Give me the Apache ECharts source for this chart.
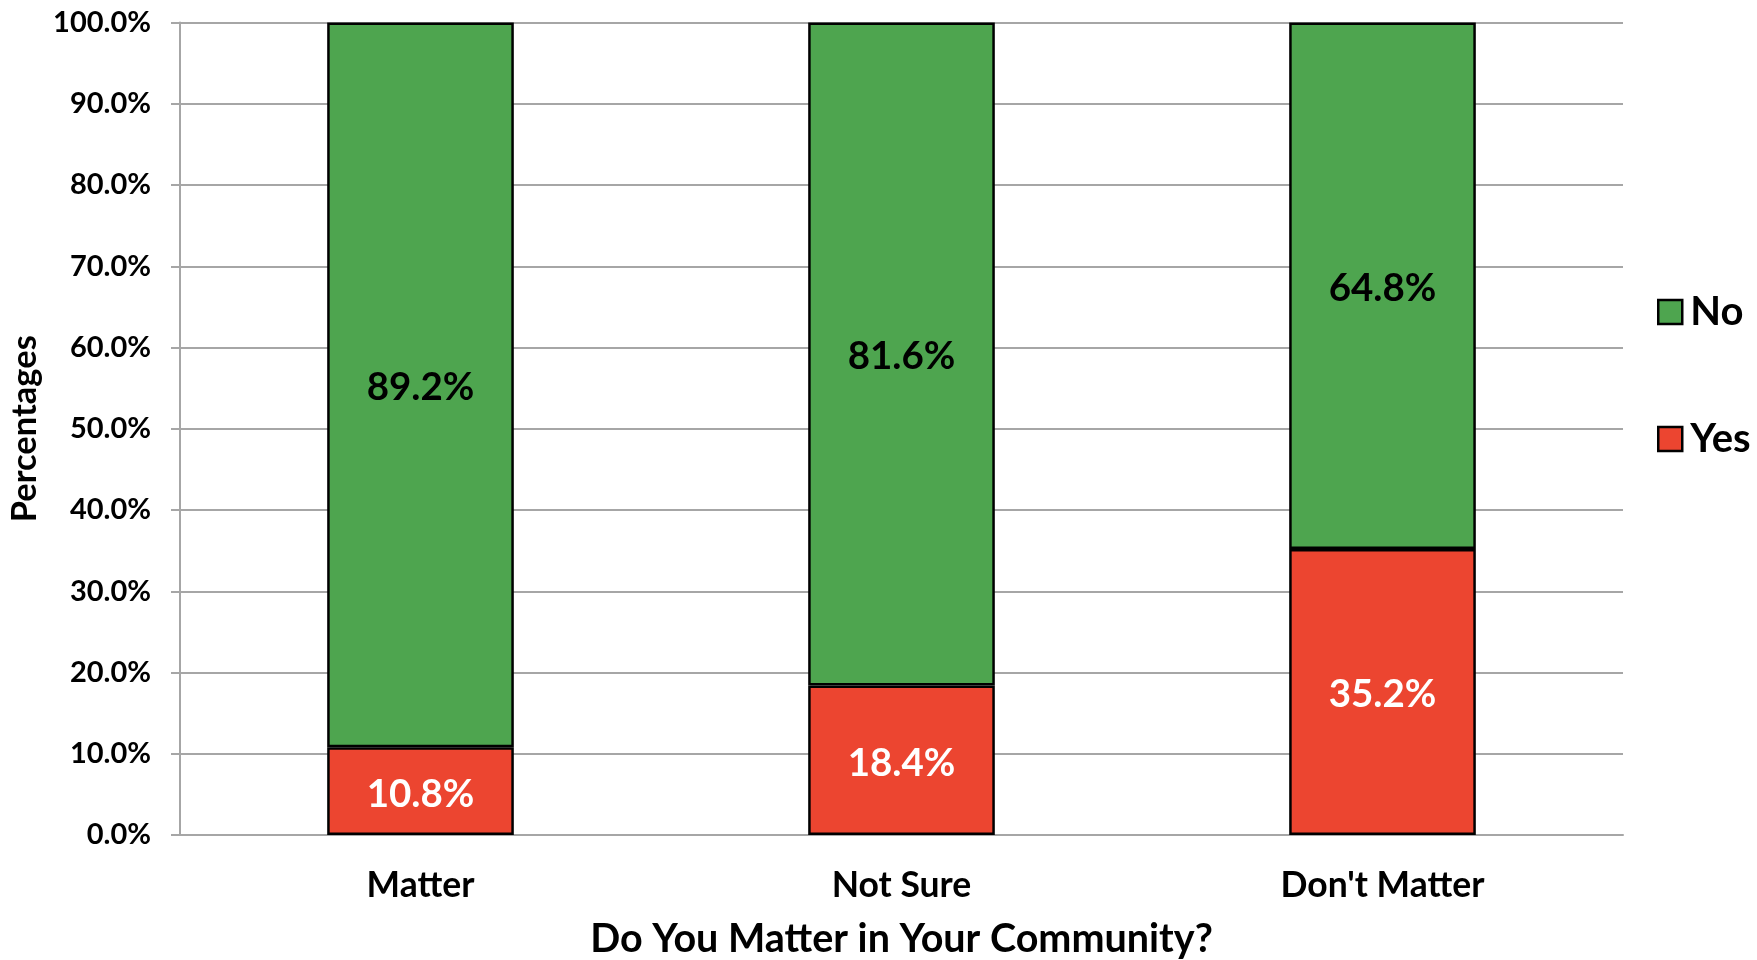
<!DOCTYPE html>
<html>
<head>
<meta charset="utf-8">
<script src="https://cdn.jsdelivr.net/npm/echarts@6/dist/echarts.min.js"></script>
<style>
html,body{margin:0;padding:0;background:#fff;}
#chart{width:1757px;height:960px;}
</style>
</head>
<body>
<div id="chart"></div>
<script>
const categories = ["Matter", "Not Sure", "Don't Matter"];
const yesValues = [10.8, 18.4, 35.2];
const noValues = [89.2, 81.6, 64.8];
const seriesNames = ["Yes", "No"];
const legendOrder = ["No", "Yes"];
const xTitle = "Do You Matter in Your Community?";
const yTitle = "Percentages";

const FONT = "Lato";
const chart = echarts.init(document.getElementById('chart'), null, {renderer: 'canvas'});

const option = {
  animation: false,
  backgroundColor: '#ffffff',
  textStyle: {fontFamily: FONT},
  grid: {left: 180, right: 134, top: 22.5, bottom: 125, containLabel: false, outerBoundsMode: 'none'},
  legend: {
    data: legendOrder,
    orient: 'vertical',
    left: 1652,
    top: 287,
    itemWidth: 24,
    itemHeight: 24,
    itemGap: 87,
    icon: 'rect',
    textStyle: {fontFamily: FONT, fontWeight: 'bold', fontSize: 40, color: '#000', padding: [0, 0, 0, 3]},
    itemStyle: {borderColor: '#000', borderWidth: 2.5}
  },
  xAxis: {
    type: 'category',
    data: categories,
    name: xTitle,
    nameLocation: 'middle',
    nameGap: 84,
    nameTextStyle: {fontFamily: FONT, fontWeight: 'bold', fontSize: 39.5, color: '#000'},
    axisLine: {show: true, lineStyle: {color: '#a6a6a6', width: 2}},
    axisTick: {show: false},
    axisLabel: {fontFamily: FONT, fontWeight: 'bold', fontSize: 35.5, color: '#000', margin: 33},
    splitLine: {show: false}
  },
  yAxis: {
    type: 'value',
    min: 0,
    max: 100,
    interval: 10,
    name: yTitle,
    nameLocation: 'middle',
    nameGap: 138,
    nameRotate: 90,
    nameTextStyle: {fontFamily: FONT, fontWeight: 'bold', fontSize: 34.5, color: '#000'},
    axisLine: {show: true, lineStyle: {color: '#a6a6a6', width: 2}},
    axisTick: {show: true, inside: false, length: 9, lineStyle: {color: '#a6a6a6', width: 2}},
    axisLabel: {fontFamily: FONT, fontWeight: 'bold', fontSize: 29, color: '#000', margin: 29,
      formatter: v => v.toFixed(1) + '%'},
    splitLine: {show: true, lineStyle: {color: '#a6a6a6', width: 2}}
  },
  series: [
    {
      name: seriesNames[0],
      type: 'bar',
      stack: 'total',
      data: yesValues,
      barWidth: '38.8%',
      itemStyle: {color: '#ec4530', borderColor: '#000', borderWidth: 2.5},
      label: {show: true, position: 'inside', offset: [0, 3], fontFamily: FONT, fontWeight: 'bold', fontSize: 38.5, color: '#fff',
        formatter: p => p.value.toFixed(1) + '%'}
    },
    {
      name: seriesNames[1],
      type: 'bar',
      stack: 'total',
      data: noValues,
      barWidth: '38.8%',
      itemStyle: {color: '#4ea54f', borderColor: '#000', borderWidth: 2.5},
      label: {show: true, position: 'inside', offset: [0, 3], fontFamily: FONT, fontWeight: 'bold', fontSize: 38.5, color: '#000',
        formatter: p => p.value.toFixed(1) + '%'}
    }
  ]
};
chart.setOption(option);
</script>
</body>
</html>
